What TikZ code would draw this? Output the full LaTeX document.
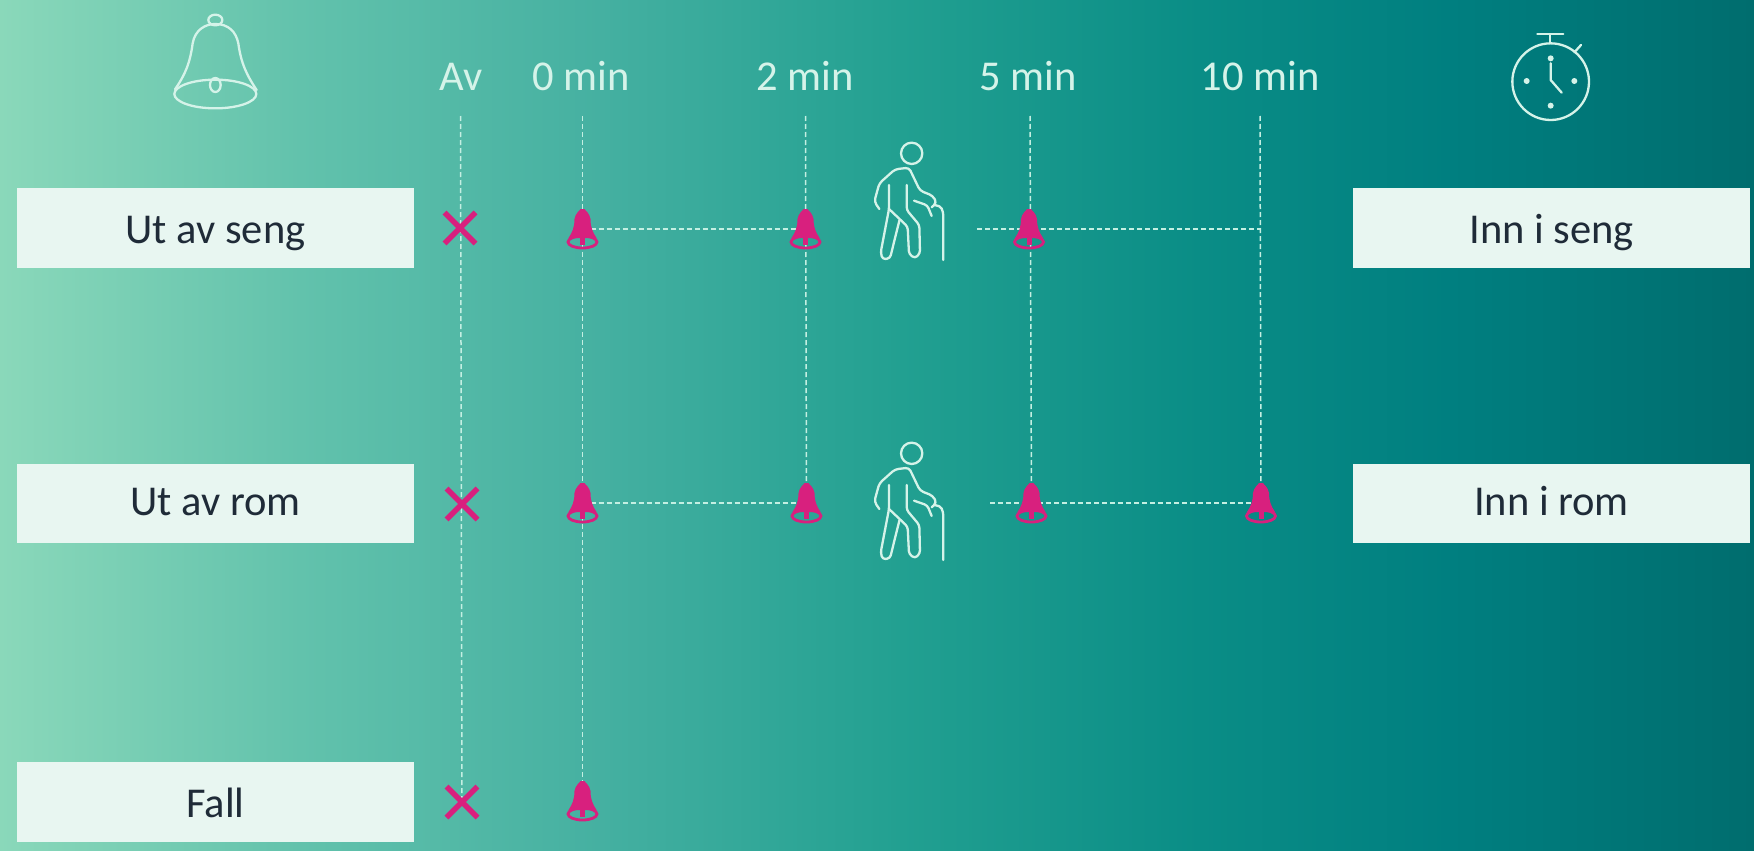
\documentclass[tikz,border=0pt]{standalone}
\usepackage{fontspec}
\setmainfont{Carlito}
\definecolor{ga}{HTML}{8AD8BA}
\definecolor{gb}{HTML}{62C2AC}
\definecolor{gc}{HTML}{45B0A1}
\definecolor{gd}{HTML}{22A091}
\definecolor{ge}{HTML}{0A8D86}
\definecolor{gf}{HTML}{007F80}
\definecolor{gg}{HTML}{006D6E}
\definecolor{boxfill}{HTML}{E8F6F1}
\definecolor{boxtext}{HTML}{1F2B38}
\definecolor{iconline}{HTML}{D5F3E9}
\definecolor{dashline}{HTML}{C4EFE2}
\definecolor{pinkmark}{HTML}{D8207E}
\pgfdeclarehorizontalshading{bgshade}{100bp}{color(0bp)=(ga); color(25bp)=(ga); color(33.55bp)=(gb); color(42.1bp)=(gc); color(50.66bp)=(gd); color(59.2bp)=(ge); color(66.3bp)=(gf); color(75bp)=(gg); color(100bp)=(gg)}
\tikzset{
  labelbox/.style={fill=boxfill,text=boxtext,inner sep=0pt,minimum width=397pt,font=\fontsize{42.5}{48}\selectfont,text depth=0pt,text height=#1},
  headtext/.style={text=iconline,inner sep=0pt,anchor=base,font=\fontsize{42.5}{48}\selectfont},
  gridline/.style={dashline,line width=1.5pt,dash pattern=on 5pt off 3pt},
  iconstroke/.style={iconline,line width=2.3pt,line cap=round,line join=round},
  crossmark/.style={pinkmark,line width=5.5pt},
  pics/pinkbell/.style={code={
    \fill[pinkmark] (-14,9) .. controls (-10,3) and (-8,-2) .. (-8,-10) .. controls (-7,-16) and (-3,-18) .. (-2,-20) -- (2,-20) .. controls (3,-18) and (7,-16) .. (8,-10) .. controls (8,-2) and (10,3) .. (14,9) -- cycle;
    \draw[pinkmark,line width=2.8pt] (0,13) ellipse (14.5 and 6);
    \fill[pinkmark] (-2.5,6) rectangle (2.5,16);
  }},
  pics/walker/.style={code={
    \begin{scope}[scale=1/3,iconstroke]
      \draw (215,70) circle (32);
      \draw[rounded corners=3.5pt] (118,237) -- (103,215) -- (118,160) -- (165,118) -- (207,113) -- (240,182) -- (278,197) -- (290,218) -- (275,232);
      \draw[rounded corners=3pt] (222,212) -- (262,226) -- (275,258);
      \draw[rounded corners=4pt] (285,226) -- (300,226) -- (310,245) -- (310,390);
      \draw[rounded corners=3pt] (147,165) -- (147,237) -- (122,368) -- (128,388) -- (150,385) -- (178,272);
      \draw[rounded corners=3pt] (147,237) -- (203,290) -- (207,372) -- (225,385) -- (240,370) -- (238,285) -- (200,240) -- (200,165);
    \end{scope}
  }}
}
\begin{document}
\begin{tikzpicture}[x=1pt,y=-1pt]
\useasboundingbox (0,0) rectangle (1754,851);
\shade[shading=bgshade] (0,0) rectangle (1754,851);

% label boxes
\node[labelbox=30pt,minimum height=80pt] (utseng) at (215.5,228) {Ut av seng};
\node[labelbox=24pt,minimum height=79pt] (utrom) at (215.5,503.5) {Ut av rom};
\node[labelbox=30pt,minimum height=80pt] (fall) at (215.5,802) {Fall};
\node[labelbox=30pt,minimum height=80pt] (innseng) at (1551.5,228) {Inn i seng};
\node[labelbox=24pt,minimum height=79pt] (innrom) at (1551.5,503.5) {Inn i rom};

% column headers
\node[headtext] (hav) at (461,90) {Av};
\node[headtext] (h0) at (581,90) {0 min};
\node[headtext] (h2) at (805,90) {2 min};
\node[headtext] (h5) at (1028,90) {5 min};
\node[headtext] (h10) at (1260,90) {10 min};

% grid anchor points
\coordinate (tav) at (460.5,116);
\coordinate (t0) at (582.5,116);
\coordinate (t2) at (805.5,116);
\coordinate (t5) at (1030,116);
\coordinate (t10) at (1260,116);
\coordinate (xa) at (460,228);
\coordinate (xb) at (462,504);
\coordinate (xc) at (462,802);
\coordinate (b0a) at (582.5,229);
\coordinate (b2a) at (805.5,229);
\coordinate (b5a) at (1029,229);
\coordinate (e10a) at (1260,229);
\coordinate (s5a) at (977,229);
\coordinate (b0b) at (582.5,503);
\coordinate (b2b) at (806.5,503);
\coordinate (b5b) at (1031.5,503);
\coordinate (b10b) at (1261,503);
\coordinate (s5b) at (990,503);
\coordinate (b0c) at (582.5,801);

% dashed grid
\draw[gridline] (tav) -- (xc);
\draw[gridline] (t0) -- (b0c);
\draw[gridline] (t2) -- (b2b);
\draw[gridline] (t5) -- (b5b);
\draw[gridline] (t10) -- (b10b);
\draw[gridline] (b0a) -- (b2a);
\draw[gridline] (s5a) -- (e10a);
\draw[gridline] (b0b) -- (b2b);
\draw[gridline] (s5b) -- (b10b);

% crosses
\foreach \c in {xa,xb,xc}{
  \draw[crossmark] ([shift={(-15.5,-15.5)}]\c) -- ([shift={(15.5,15.5)}]\c);
  \draw[crossmark] ([shift={(-15.5,15.5)}]\c) -- ([shift={(15.5,-15.5)}]\c);
}

% bells
\foreach \c in {b0a,b2a,b5a,b0b,b2b,b5b,b10b,b0c}{
  \pic at (\c) {pinkbell};
}

% walking figures
\pic at (840,130) {walker};
\pic at (840,430) {walker};

% large bell icon
\begin{scope}[shift={(130,0)},scale=1/3,iconstroke]
  \draw (135,268) .. controls (165,225) and (180,190) .. (188,130) .. controls (195,90) and (225,72) .. (256,72) .. controls (295,72) and (318,95) .. (325,130) .. controls (333,190) and (350,225) .. (380,270);
  \draw (256,282) ellipse (123 and 43);
  \draw (256,60) ellipse (21 and 16);
  \draw (256,255) ellipse (16 and 21);
\end{scope}

% stopwatch icon
\begin{scope}[shift={(1480,20)},scale=1/3,iconstroke]
  \draw (212,185) circle (115);
  \draw (172,42) -- (250,42);
  \draw (210,42) -- (210,70);
  \draw (283,97) -- (303,75);
  \draw (212,130) -- (212,180) -- (245,218);
  \fill[iconline] (212,115) circle (9);
  \fill[iconline] (140,183) circle (9);
  \fill[iconline] (283,183) circle (9);
  \fill[iconline] (212,257) circle (9);
\end{scope}
\end{tikzpicture}
\end{document}
